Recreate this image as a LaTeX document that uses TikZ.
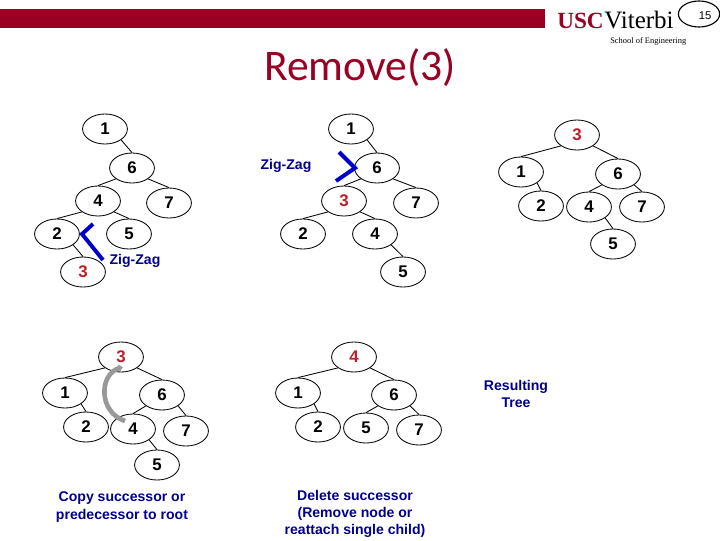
\documentclass[tikz,border=0pt]{standalone}
\usepackage{fontspec}
\setmainfont{Liberation Sans}
\newfontfamily\titlefont{Carlito}
\newfontfamily\logofont{Liberation Serif}
\definecolor{BarRed}{RGB}{153,0,33}
\definecolor{ZigBlue}{RGB}{0,0,205}
\definecolor{LabelBlue}{RGB}{0,0,140}
\definecolor{KeyRed}{RGB}{190,30,40}
\usetikzlibrary{shapes.geometric,arrows.meta}
\begin{document}
\begin{tikzpicture}[x=0.025cm,y=-0.025cm,>=latex,
      nd/.style={draw=black,semithick,ellipse,minimum width=1.12cm,minimum height=0.75cm,inner sep=0pt,
                 font=\fontsize{12}{12}\bfseries},
      ndred/.style={nd,text=KeyRed},
      zig/.style={draw=ZigBlue,line width=2.8pt},
      zlabel/.style={text=LabelBlue,font=\fontsize{10}{12}\bfseries},
      note/.style={align=center,text=LabelBlue,font=\fontsize{10}{12}\bfseries}]
    \useasboundingbox (0,0) rectangle (720,540);
    % header
    \fill[BarRed] (0,9) rectangle (545,28);
    \node[text=BarRed,font=\logofont\fontsize{16.5}{20}\bfseries,anchor=base west,inner sep=0pt] (usc) at (557,28) {USC};
    \node[font=\logofont\fontsize{17.8}{20}\selectfont,anchor=base west,inner sep=0pt] (vit) at (usc.base east) {Viterbi};
    \node[font=\logofont\fontsize{6}{7}\selectfont,anchor=west,inner sep=0pt] (soe) at (610,41) {School of Engineering};
    \node[draw=black,thick,ellipse,minimum width=1.03cm,minimum height=0.65cm,inner sep=0pt] (pgo) at (699,14) {};
    \node[inner sep=0pt,font=\fontsize{8}{8}\selectfont] (pg) at (705,16) {15};
    \node[text=BarRed,font=\titlefont\fontsize{31}{32}\selectfont] (ttl) at (360,68) {Remove(3)};
    % first tree
    \node[nd] (a1) at (105,129) {1};
    \node[nd] (a6) at (132,168) {6};
    \node[nd] (a4) at (98,201) {4};
    \node[nd] (a7) at (169,203) {7};
    \node[nd] (a2) at (57,234) {2};
    \node[nd] (a5) at (129,234) {5};
    \node[ndred] (a3) at (83,272) {3};
    % second tree
    \node[nd] (b1) at (351,129) {1};
    \node[nd] (b6) at (377,168) {6};
    \node[ndred] (b3) at (344,201) {3};
    \node[nd] (b7) at (416,203) {7};
    \node[nd] (b2) at (303,234) {2};
    \node[nd] (b4) at (375,234) {4};
    \node[nd] (b5) at (403,272) {5};
    % third tree
    \node[ndred] (c3) at (577,135) {3};
    \node[nd] (c1) at (521,172) {1};
    \node[nd] (c6) at (618,174) {6};
    \node[nd] (c2) at (541,206) {2};
    \node[nd] (c4) at (589,207) {4};
    \node[nd] (c7) at (642,207) {7};
    \node[nd] (c5) at (613,244) {5};
    % copy step
    \node[ndred] (d3) at (121,357) {3};
    \node[nd] (d1) at (65,393) {1};
    \node[nd] (d6) at (162,395) {6};
    \node[nd] (d2) at (86,427) {2};
    \node[nd] (d4) at (133,429) {4};
    \node[nd] (d7) at (186,431) {7};
    \node[nd] (d5) at (157,465) {5};
    % result of delete
    \node[ndred] (e4) at (354,357) {4};
    \node[nd] (e1) at (298,393) {1};
    \node[nd] (e6) at (394,395) {6};
    \node[nd] (e2) at (318,427) {2};
    \node[nd] (e5) at (366,428) {5};
    \node[nd] (e7) at (419,430) {7};
    % left children, then right children
    \foreach \p/\c in {a6/a4,a4/a2,b6/b3,b3/b2,c3/c1,c6/c4,d3/d1,d6/d4,e4/e1,e6/e5}
      \draw[semithick] (\p.south west) -- (\c.north);
    \foreach \p/\c in {a1/a6,a6/a7,a4/a5,a2/a3,b1/b6,b6/b7,b3/b4,b4/b5,c3/c6,c1/c2,c6/c7,c4/c5,
                       d3/d6,d1/d2,d6/d7,d4/d5,e4/e6,e1/e2,e6/e7}
      \draw[semithick] (\p.south east) -- (\c.north);
    % zig-zag marks
    \coordinate (za) at (93,224);
    \coordinate (zb) at (82,234);
    \coordinate (zc) at (103,260);
    \coordinate (zd) at (339,152);
    \coordinate (ze) at (355,168);
    \coordinate (zf) at (336,181);
    \draw[zig] (za) -- (zb) -- (zc);
    \draw[zig] (zd) -- (ze) -- (zf);
    \node[zlabel] (zl1) at (135,261) {Zig-Zag};
    \node[zlabel] (zl2) at (286,166) {Zig-Zag};
    % copy arrow
    \coordinate (cs) at (125,421);
    \coordinate (ce) at (123,367);
    \draw[draw=black!40,line width=3.3pt,-{Latex[length=3pt,width=6pt]}] (cs) .. controls (98,412) and (99,374) .. (ce);
    % captions
    \node[note] (n1) at (122,507) {Copy successor or\\[1pt]predecessor  to root};
    \node[note] (n2) at (355,514) {Delete successor\\(Remove node or\\reattach single child)};
    \node[note] (n3) at (516,394) {Resulting\\Tree};
  \end{tikzpicture}
\end{document}
